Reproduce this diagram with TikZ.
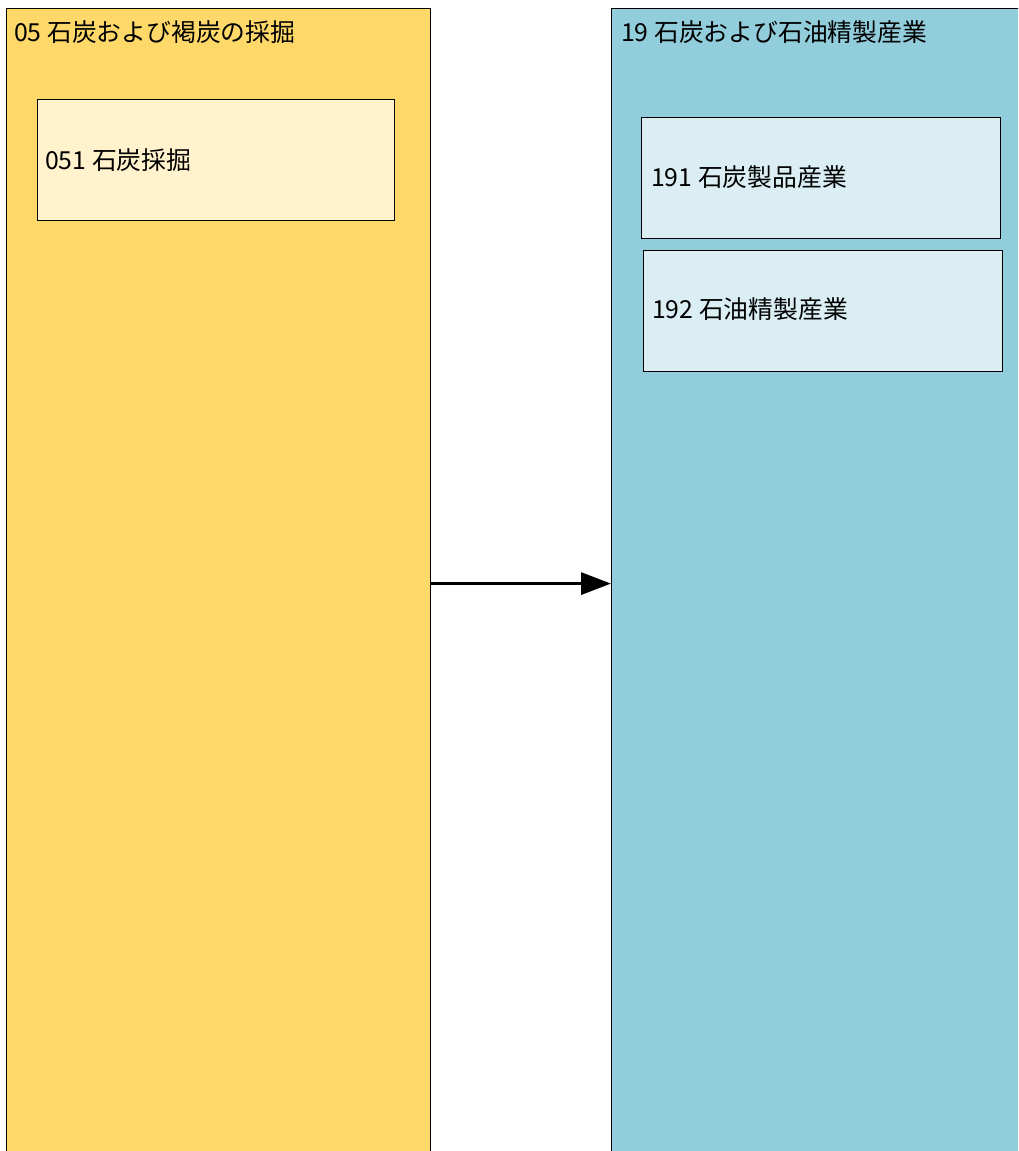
\documentclass[tikz,border=0pt]{standalone}
\usepackage{fontspec}
\setmainfont{Noto Sans CJK JP}
\usetikzlibrary{arrows.meta}
\definecolor{outerY}{HTML}{FED96A}
\definecolor{innerY}{HTML}{FFF2CC}
\definecolor{outerB}{HTML}{92CDDC}
\definecolor{innerB}{HTML}{DAEEF3}
\tikzset{
  outerbox/.style={draw=black, line width=1.2pt, anchor=north west, minimum width=#1, minimum height=1150pt, inner sep=0pt},
  innerbox/.style={draw=black, line width=1.2pt, anchor=north west, minimum height=121pt, inner sep=0pt},
  lbl/.style={anchor=west, inner sep=0pt, font=\fontsize{24.8}{28}\selectfont},
  flow/.style={line width=3.2pt, -{Triangle[length=30pt,width=22pt]}}
}
\begin{document}
\begin{tikzpicture}[x=1pt,y=-1pt]
\useasboundingbox (0,0) rectangle (1018,1151);
\clip (0,0) rectangle (1018,1151);
\node[outerbox=424pt, fill=outerY] (A) at (6,8) {};
\node[outerbox=440pt, fill=outerB] (B) at (611,8) {};
\node[lbl] (At) at (14,32) {05 石炭および褐炭の採掘};
\node[lbl] (Bt) at (621,32) {19 石炭および石油精製産業};
\node[innerbox, minimum width=357pt, fill=innerY] (A1) at (37,99) {};
\node[lbl] (A1t) at (45,160) {051 石炭採掘};
\node[innerbox, minimum width=359pt, fill=innerB] (B1) at (641,117) {};
\node[lbl] (B1t) at (651,177) {191 石炭製品産業};
\node[innerbox, minimum width=359pt, fill=innerB] (B2) at (643,250) {};
\node[lbl] (B2t) at (652,309) {192 石油精製産業};
\draw[flow] (A.east) -- (B.west);
\end{tikzpicture}
\end{document}
